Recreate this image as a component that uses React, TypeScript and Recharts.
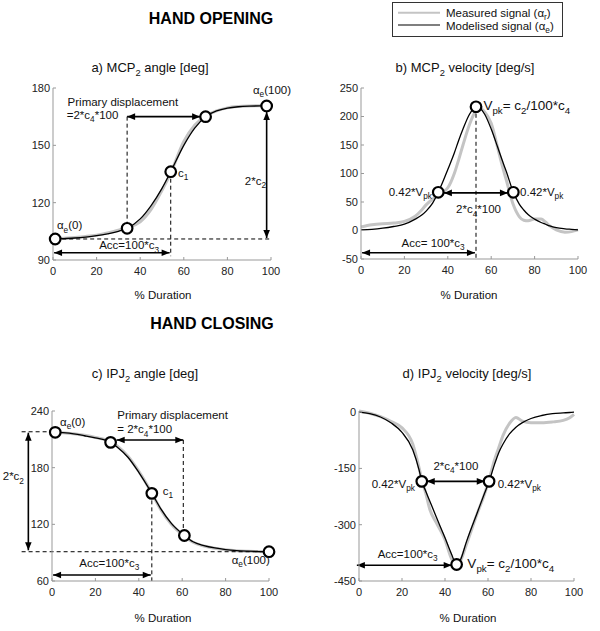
import React from 'react';
import { LineChart, Line, XAxis, YAxis, ReferenceLine, ReferenceDot } from 'recharts';

// % duration grid and signals
const tA = [0, 1, 5, 10, 15, 20, 25, 30, 34, 40, 45, 50, 54, 60, 65, 70, 75, 80, 85, 90, 95, 98];
const modelA = [100.9, 101, 101.2, 101.5, 102, 102.7, 103.7, 105, 106.6, 111.5, 118.5, 127.5, 136.2, 150, 159, 165, 168, 169.5, 170.2, 170.5, 170.6, 170.6];
const measA = [101, 101.1, 101.4, 101.8, 102.3, 103, 104.2, 105.6, 107, 110, 116.5, 126.5, 135.5, 152, 160.5, 165.3, 168, 169.6, 170.3, 170.6, 170.7, 170.6];
const ringsA = [[1, 101], [34, 106.6], [54, 136.2], [70, 165], [98, 170.6]];

const tB = [0, 5, 10, 15, 20, 25, 28, 30, 33, 35.6, 38, 40, 43, 45, 47, 50, 53, 55, 57, 60, 63, 65, 67, 70.2, 73, 75, 77, 80, 83, 85, 87, 90, 94, 97, 100];
const modelB = [1, 2, 4, 7, 11, 20, 27, 34, 48, 67, 88, 107, 136, 158, 178, 204, 217, 214, 204, 178, 146, 124, 103, 67, 46, 36, 28, 20, 14, 11, 8, 5, 3, 2, 1];
const measB = [6, 10, 12, 13, 16, 25, 36, 45, 55, 62, 68, 75, 100, 124, 150, 186, 210, 214, 208, 188, 145, 115, 88, 45, 24, 18, 17, 20, 20, 15, 8, 1, -3, -2, 1];
const ringsB = [[35.6, 67], [53, 217], [70.2, 67]];

const tC = [0, 1.5, 5, 10, 15, 20, 27, 30, 35, 40, 46, 50, 55, 61, 65, 70, 75, 80, 85, 90, 95, 100];
const modelC = [218, 217.6, 217, 215.8, 213.8, 211.5, 206.8, 202, 191, 175, 152.8, 137, 121, 108.2, 101.5, 97.5, 95, 93.3, 92.2, 91.6, 91.2, 91];
const measC = [218, 217.6, 217, 216, 214.3, 212, 207.5, 203, 192, 176, 153, 136, 120, 107.5, 101, 97, 94.6, 93, 92, 91.5, 91.2, 91];
const ringsC = [[1.5, 217.4], [27, 206.8], [46, 152.8], [61, 108.2], [100, 91]];

const tD = [0, 5, 10, 15, 20, 25, 28, 29.2, 31, 33, 36, 40, 43, 45.4, 47, 50, 55, 58, 60.5, 63, 65, 67, 70, 73, 76, 80, 85, 90, 95, 98, 100];
const modelD = [0, -4, -13, -29, -54, -100, -155, -184.5, -210, -238, -280, -335, -378, -406, -396, -345, -268, -222, -184.5, -140, -108, -85, -58, -40, -28, -17, -9, -4, -2, -1, 0];
const measD = [3, -3, -12, -25, -42, -85, -150, -180, -215, -260, -295, -340, -390, -405, -398, -352, -270, -225, -180, -128, -95, -62, -30, -14, -24, -28, -28, -26, -22, -15, -6];
const ringsD = [[29.2, -184.5], [45.4, -406], [60.5, -184.5]];

const xTicks = [0, 20, 40, 60, 80, 100];
const ticksA = [90, 120, 150, 180];
const ticksB = [-50, 0, 50, 100, 150, 200, 250];
const ticksC = [60, 120, 180, 240];
const ticksD = [-450, -300, -150, 0];

const FONT = 'Liberation Sans, Arial, sans-serif';

const rows = (t: number[], model: number[], meas: number[]) =>
  t.map((v, i) => ({ t: v, model: model[i], meas: meas[i] }));

// text with _{...} subscripts
function rich(s: string, fs: number) {
  const parts = s.split(/(_\{[^}]*\})/);
  const out: any[] = [];
  let shifted = false;
  parts.forEach((p, i) => {
    if (!p) return;
    if (p.startsWith('_{')) {
      out.push(<tspan key={i} fontSize={fs * 0.72} dy={fs * 0.28}>{p.slice(2, -1)}</tspan>);
      shifted = true;
    } else {
      out.push(<tspan key={i} dy={shifted ? -fs * 0.28 : 0}>{p}</tspan>);
      shifted = false;
    }
  });
  return out;
}

function arrowShape(ends: 'both' | 'end') {
  return (p: any) => {
    const { x1, y1, x2, y2 } = p;
    const dx = x2 - x1, dy = y2 - y1;
    const len = Math.hypot(dx, dy) || 1;
    const ux = dx / len, uy = dy / len;
    const L = 8, W = 3.3;
    const head = (tx: number, ty: number, dx0: number, dy0: number) => {
      const bx = tx - dx0 * L, by = ty - dy0 * L;
      return `${tx},${ty} ${bx - dy0 * W},${by + dx0 * W} ${bx + dy0 * W},${by - dx0 * W}`;
    };
    return (
      <g>
        <line x1={x1} y1={y1} x2={x2} y2={y2} stroke="#000" strokeWidth={1.6} />
        <polygon points={head(x2, y2, ux, uy)} fill="#000" />
        {ends === 'both' && <polygon points={head(x1, y1, -ux, -uy)} fill="#000" />}
      </g>
    );
  };
}

const arrow = (k: string, a: number[], b: number[]) => (
  <ReferenceLine key={k} segment={[{ x: a[0], y: a[1] }, { x: b[0], y: b[1] }]} ifOverflow="visible" shape={arrowShape('both')} />
);
const dashed = (k: string, a: number[], b: number[]) => (
  <ReferenceLine key={k} segment={[{ x: a[0], y: a[1] }, { x: b[0], y: b[1] }]} ifOverflow="visible" stroke="#000" strokeWidth={1} strokeDasharray="4 3" />
);
const rings = (k: string, pts: number[][]) =>
  pts.map((p, i) => (
    <ReferenceDot key={k + i} x={p[0]} y={p[1]} r={5.3} fill="#fff" stroke="#000" strokeWidth={2.2} ifOverflow="visible" />
  ));
const note = (k: string, x: number, y: number, s: string, anchor = 'start', fs = 11.5) => (
  <ReferenceDot
    key={k}
    x={x}
    y={y}
    r={1}
    ifOverflow="visible"
    shape={(p: any) => (
      <text x={p.cx} y={p.cy} fontSize={fs} fontFamily={FONT} fill="#111" textAnchor={anchor}>
        {rich(s, fs)}
      </text>
    )}
  />
);

function Panel({ left, top, width, height, margin, data, yDomain, yTicks, children }: any) {
  return (
    <div style={{ position: 'absolute', left, top }}>
      <LineChart width={width} height={height} data={data} margin={margin}>
        <XAxis
          type="number"
          dataKey="t"
          domain={[0, 100]}
          ticks={xTicks}
          height={30}
          stroke="#999"
          tickLine={{ stroke: '#999' }}
          tickSize={-3}
          tickMargin={10}
          tick={{ fill: '#222', fontSize: 11, fontFamily: FONT }}
        />
        <YAxis
          type="number"
          domain={yDomain}
          ticks={yTicks}
          width={40}
          stroke="#999"
          tickLine={{ stroke: '#999' }}
          tickSize={-3}
          tickMargin={6}
          tick={{ fill: '#222', fontSize: 11, fontFamily: FONT }}
        />
        <Line type="monotone" dataKey="meas" stroke="#c4c4c4" strokeWidth={3} dot={false} isAnimationActive={false} />
        <Line type="monotone" dataKey="model" stroke="#000" strokeWidth={1.3} dot={false} isAnimationActive={false} />
        {children}
      </LineChart>
    </div>
  );
}

export default function App() {
  return (
    <div style={{ position: 'absolute', left: 0, top: 0, width: 600, height: 631, background: '#fff', fontFamily: FONT }}>
      <Panel left={1} top={60} width={300} height={250} margin={{ top: 28, right: 30, bottom: 20, left: 12 }}
        data={rows(tA, modelA, measA)} yDomain={[90, 180]} yTicks={ticksA}>
        {dashed('a1', [1, 101], [100, 101])}
        {dashed('a2', [34, 165], [34, 106.6])}
        {dashed('a3', [54, 136.2], [54, 92])}
        {arrow('a4', [0.5, 93.8], [53.5, 93.8])}
        {arrow('a5', [34, 165], [67.5, 165])}
        {arrow('a6', [98, 167.5], [98, 101.5])}
        {rings('ar', ringsA)}
        {note('n1', 1.8, 106, 'α_{e}(0)')}
        {note('n2', 91.7, 176.8, 'α_{e}(100)')}
        {note('n3', 57.3, 133.4, 'c_{1}')}
        {note('n4', 88, 129.2, '2*c_{2}')}
        {note('n5', 6.7, 170.7, 'Primary displacement')}
        {note('n6', 6.3, 163.8, '=2*c_{4}*100')}
        {note('n7', 21.2, 95.6, 'Acc=100*c_{3}')}
      </Panel>

      <Panel left={300} top={60} width={300} height={250} margin={{ top: 28, right: 22, bottom: 21, left: 21 }}
        data={rows(tB, modelB, measB)} yDomain={[-50, 250]} yTicks={ticksB}>
        {dashed('b1', [53, 217], [53, -50])}
        {arrow('b2', [0.5, -39], [52.5, -39])}
        {arrow('b3', [38.2, 66], [67.7, 66])}
        {rings('br', ringsB)}
        {note('m1', 32.7, 61, '0.42*V_{pk}', 'end')}
        {note('m2', 73.3, 61, '0.42*V_{pk}')}
        {note('m3', 43.8, 30.2, '2*c_{4}*100')}
        {note('m4', 18.7, -28.4, 'Acc= 100*c_{3}')}
        {note('m5', 56.4, 211.4, 'V_{pk}= c_{2}/100*c_{4}', 'start', 13.5)}
      </Panel>

      <Panel left={0} top={350} width={300} height={281} margin={{ top: 61, right: 31, bottom: 20, left: 12 }}
        data={rows(tC, modelC, measC)} yDomain={[60, 240]} yTicks={ticksC}>
        {dashed('c1', [-14, 218], [1.5, 218])}
        {dashed('c2', [-14, 91], [100, 91])}
        {dashed('c3', [60.5, 209.3], [60.5, 108.2])}
        {dashed('c4', [46, 152.8], [46, 60])}
        {arrow('c5', [-10.9, 217], [-10.9, 92.5])}
        {arrow('c6', [29.8, 209.3], [60.5, 209.3])}
        {arrow('c7', [0.5, 66.3], [45.5, 66.3])}
        {rings('cr', ringsC)}
        {note('o1', 3.7, 224.6, 'α_{e}(0)')}
        {note('o2', 30.1, 231.5, 'Primary displacement')}
        {note('o3', 30.1, 216.4, '= 2*c_{4}*100')}
        {note('o4', 51, 151, 'c_{1}')}
        {note('o5', -22.7, 166.5, '2*c_{2}')}
        {note('o6', 12.6, 74.7, 'Acc=100*c_{3}')}
        {note('o7', 82.8, 78, 'α_{e}(100)')}
      </Panel>

      <Panel left={300} top={350} width={300} height={281} margin={{ top: 61, right: 26, bottom: 20, left: 19 }}
        data={rows(tD, modelD, measD)} yDomain={[-450, 0]} yTicks={ticksD}>
        {arrow('d1', [31.5, -184.5], [58.5, -184.5])}
        {arrow('d2', [-1, -408], [43.1, -408])}
        {rings('dr', ringsD)}
        {note('p1', 34.6, -154.4, '2*c_{4}*100')}
        {note('p2', 26, -202, '0.42*V_{pk}', 'end')}
        {note('p3', 64.5, -202, '0.42*V_{pk}')}
        {note('p4', 8.7, -389, 'Acc=100*c_{3}')}
        {note('p5', 50.4, -416, 'V_{pk}= c_{2}/100*c_{4}', 'start', 13.5)}
      </Panel>

      <svg width={600} height={631} style={{ position: 'absolute', left: 0, top: 0, pointerEvents: 'none' }} fontFamily={FONT}>
        <text x={211} y={24} fontSize={16} fontWeight="bold" textAnchor="middle" fill="#000">HAND OPENING</text>
        <text x={212} y={329} fontSize={16} fontWeight="bold" textAnchor="middle" fill="#000">HAND CLOSING</text>

        <text x={150} y={72} fontSize={13} textAnchor="middle" fill="#111">{rich('a) MCP_{2} angle [deg]', 13)}</text>
        <text x={465} y={72} fontSize={13} textAnchor="middle" fill="#111">{rich('b) MCP_{2} velocity [deg/s]', 13)}</text>
        <text x={145} y={378} fontSize={13} textAnchor="middle" fill="#111">{rich('c) IPJ_{2} angle [deg]', 13)}</text>
        <text x={467} y={378} fontSize={13} textAnchor="middle" fill="#111">{rich('d) IPJ_{2} velocity [deg/s]', 13)}</text>

        <text x={163} y={299} fontSize={11.5} textAnchor="middle" fill="#111">% Duration</text>
        <text x={469} y={299} fontSize={11.5} textAnchor="middle" fill="#111">% Duration</text>
        <text x={163} y={622} fontSize={11.5} textAnchor="middle" fill="#111">% Duration</text>
        <text x={468} y={622} fontSize={11.5} textAnchor="middle" fill="#111">% Duration</text>

        <rect x={392.5} y={2.5} width={170} height={34} fill="#fff" stroke="#333" strokeWidth={1} />
        <line x1={398} y1={12.7} x2={440} y2={12.7} stroke="#c4c4c4" strokeWidth={2} />
        <line x1={398} y1={25} x2={440} y2={25} stroke="#555" strokeWidth={1.5} />
        <text x={446} y={17} fontSize={11.5} fill="#111">{rich('Measured signal (α_{r})', 11.5)}</text>
        <text x={446} y={30} fontSize={11.5} fill="#111">{rich('Modelised signal (α_{e})', 11.5)}</text>
      </svg>
    </div>
  );
}
